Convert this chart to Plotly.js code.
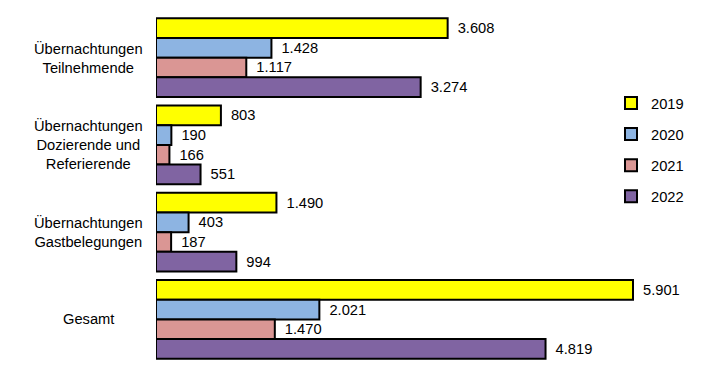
<!DOCTYPE html>
<html>
<head>
<meta charset="utf-8">
<script src="https://cdn.plot.ly/plotly-3.0.1.min.js"></script>
<style>html,body{margin:0;padding:0;background:#fff;}#chart{width:711px;height:374px;}</style>
</head>
<body>
<div id="chart"></div>
<script>
const categories = [
  "Übernachtungen<br>Teilnehmende",
  "Übernachtungen<br>Dozierende und<br>Referierende",
  "Übernachtungen<br>Gastbelegungen",
  "Gesamt"
];
const years = ["2019", "2020", "2021", "2022"];
const values2019 = [3608, 803, 1490, 5901];
const values2020 = [1428, 190, 403, 2021];
const values2021 = [1117, 166, 187, 1470];
const values2022 = [3274, 551, 994, 4819];
const colors = ["#FFFF00", "#8DB4E2", "#DA9694", "#8064A2"];

const series = [values2019, values2020, values2021, values2022];
const FONT = "Arial, 'Liberation Sans', sans-serif";
const FS = 14.7;

const traces = series.map((vals, i) => ({
  type: "bar",
  orientation: "h",
  name: years[i],
  legendgroup: years[i],
  y: categories,
  x: vals,
  marker: { color: colors[i], line: { color: "#000", width: 2 } },
  texttemplate: "\u00a0\u2009%{x:,.0f}",
  textposition: "outside",
  cliponaxis: false,
  textfont: { family: FONT, size: FS, color: "#000" },
  hoverinfo: "none"
}));

const annotations = categories.map(c => ({
  xref: "paper", yref: "y",
  x: (88 - 156) / 485, y: c,
  text: c, showarrow: false,
  xanchor: "center", yanchor: "middle", align: "center",
  font: { family: FONT, size: FS, color: "#000" }
}));

const layout = {
  width: 711, height: 374,
  margin: { l: 156, r: 70, t: 14, b: 11, autoexpand: false },
  paper_bgcolor: "#fff", plot_bgcolor: "#fff",
  separators: ",.",
  barmode: "group",
  bargap: 0.1, bargroupgap: 0,
  font: { family: FONT, size: FS, color: "#000" },
  xaxis: { range: [0, 6000], visible: false, showgrid: false, zeroline: false },
  yaxis: { autorange: "reversed", showticklabels: false, showgrid: false, zeroline: false, showline: false, ticks: "" },
  showlegend: true,
  legend: {
    x: (611 - 156) / 485, xanchor: "left", y: 0.791, yanchor: "top",
    traceorder: "grouped", tracegroupgap: 9,
    font: { family: FONT, size: FS, color: "#000" },
    bgcolor: "rgba(0,0,0,0)", itemwidth: 30
  },
  annotations: annotations
};

Plotly.newPlot("chart", traces, layout, { displayModeBar: false, staticPlot: true });
</script>
</body>
</html>
